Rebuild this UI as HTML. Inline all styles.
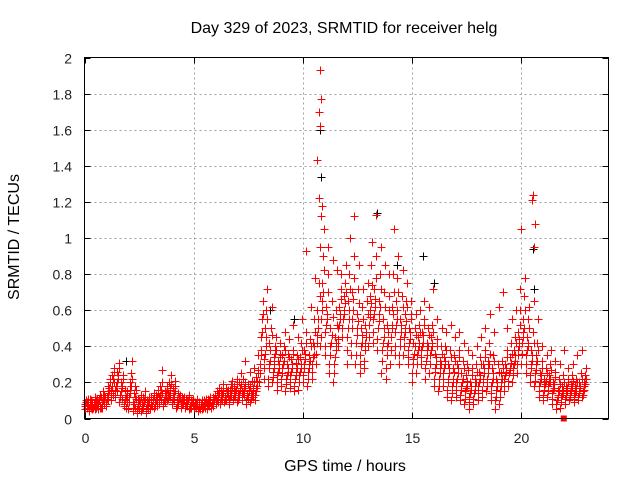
<!DOCTYPE html>
<html><head><meta charset="utf-8"><style>
body{margin:0;background:#fff}
svg{display:block;font-family:"Liberation Sans",sans-serif}
</style></head><body>
<svg id="chart" width="640" height="480" xmlns="http://www.w3.org/2000/svg">
<rect width="640" height="480" fill="#fff"/>
<g id="grid"></g>
<g id="marks"></g>
<rect x="84.5" y="57.5" width="524" height="361" fill="none" stroke="#000" stroke-width="1"/>
<g id="ticks"></g>
<text x="344" y="33" font-size="16" text-anchor="middle">Day 329 of 2023, SRMTID for receiver helg</text>
<text x="345" y="471" font-size="16" text-anchor="middle">GPS time / hours</text>
<text transform="translate(19,237) rotate(-90)" font-size="16" text-anchor="middle">SRMTID / TECUs</text>
</svg>
<script>
const times=[0.0,0.2,0.4,0.6,0.8,1.0,1.2,1.4,1.6,1.8,2.0,2.2,2.4,2.6,2.8,3.0,3.2,3.4,3.6,3.8,4.0,4.2,4.4,4.6,4.8,5.0,5.2,5.4,5.6,5.8,6.0,6.2,6.4,6.6,6.8,7.0,7.2,7.4,7.6,7.8,8.0,8.2,8.4,8.6,8.8,9.0,9.2,9.4,9.6,9.8,10.0,10.2,10.4,10.6,10.8,11.0,11.2,11.4,11.6,11.8,12.0,12.2,12.4,12.6,12.8,13.0,13.2,13.4,13.6,13.8,14.0,14.2,14.4,14.6,14.8,15.0,15.2,15.4,15.6,15.8,16.0,16.2,16.4,16.6,16.8,17.0,17.2,17.4,17.6,17.8,18.0,18.2,18.4,18.6,18.8,19.0,19.2,19.4,19.6,19.8,20.0,20.2,20.4,20.6,20.8,21.0,21.2,21.4,21.6,21.8,22.0,22.2,22.4,22.6,22.8];
const samples=[
[.05,.08,.10,.06,.09,.07],[.04,.07,.11,.06,.09,.05],[.06,.08,.12,.05,.10,.07],[.05,.09,.11,.07,.13,.06],[.06,.10,.15,.08,.12,.07],
[.08,.12,.18,.10,.15,.22],[.10,.16,.24,.13,.20,.28],[.12,.18,.26,.15,.22,.31],[.09,.13,.20,.11,.17,.24],[.08,.11,.16,.06,.13,.09],
[.05,.12,.20,.16,.25,.32],[.04,.09,.14,.06,.18,.11],[.03,.07,.11,.05,.09,.13],[.04,.08,.12,.06,.10,.15],[.03,.06,.10,.05,.09,.12],
[.05,.08,.12,.07,.10,.14],[.06,.09,.13,.07,.11,.16],[.08,.12,.18,.10,.14,.27],[.07,.10,.15,.09,.12,.18],[.10,.14,.20,.12,.17,.24],
[.08,.12,.17,.10,.15,.21],[.06,.10,.14,.08,.12,.11],[.07,.09,.12,.08,.11,.10],[.06,.08,.11,.07,.10,.13],[.05,.07,.10,.06,.09,.08],
[.05,.07,.09,.06,.08,.11],[.04,.06,.09,.05,.08,.10],[.05,.07,.10,.06,.08,.09],[.05,.08,.11,.07,.09,.12],[.06,.08,.12,.07,.10,.13],
[.08,.11,.15,.09,.13,.17],[.08,.12,.16,.10,.14,.19],[.09,.12,.17,.10,.15,.13],[.08,.11,.16,.13,.19,.21],[.10,.13,.18,.12,.16,.22],
[.09,.14,.20,.12,.17,.25],[.10,.15,.22,.13,.18,.32],[.08,.13,.19,.11,.16,.26],[.09,.14,.21,.12,.17,.28],[.10,.15,.23,.18,.27,.35],
[.20,.30,.45,.35,.55,.65],[.22,.33,.50,.40,.60,.72],[.18,.28,.42,.32,.50,.62],[.20,.26,.34,.30,.40,.45],[.16,.24,.32,.28,.36,.42],
[.18,.25,.35,.30,.40,.48],[.15,.22,.30,.26,.36,.44],[.17,.24,.33,.28,.38,.52],[.15,.22,.31,.26,.35,.45],[.16,.24,.34,.28,.42,.55],
[.20,.28,.38,.33,.48,.93],[.18,.26,.35,.30,.44,.62],[.22,.30,.42,.35,.55,.78],[.30,.42,.60,.50,.75,.95],[.40,.55,.75,.65,.90,1.05],
[.35,.48,.62,.55,.80,.95],[.25,.35,.50,.42,.65,.88],[.20,.30,.45,.38,.60,.82],[.40,.50,.62,.55,.72,.80],[.45,.55,.68,.60,.75,.85],
[.30,.45,.65,.55,.80,1.00],[.35,.50,.70,.60,.90,1.12],[.30,.42,.58,.50,.72,.85],[.25,.35,.50,.42,.62,.72],[.28,.38,.52,.45,.65,.75],
[.40,.52,.68,.60,.85,.98],[.42,.55,.72,.62,.90,1.13],[.38,.50,.65,.58,.80,.95],[.25,.38,.55,.45,.70,.85],[.22,.35,.52,.42,.68,.80],
[.30,.45,.62,.52,.80,1.05],[.35,.48,.65,.55,.78,.90],[.30,.40,.55,.48,.68,.82],[.35,.45,.58,.50,.65,.75],[.30,.38,.50,.44,.58,.65],
[.20,.30,.42,.36,.50,.58],[.25,.35,.45,.40,.52,.60],[.30,.38,.48,.42,.55,.65],[.22,.32,.42,.38,.50,.62],[.25,.35,.45,.40,.52,.72],
[.18,.26,.36,.30,.44,.55],[.15,.22,.32,.28,.40,.50],[.18,.25,.34,.30,.40,.48],[.12,.20,.30,.25,.38,.52],[.10,.18,.28,.22,.35,.45],
[.12,.20,.30,.25,.38,.48],[.10,.16,.25,.20,.32,.42],[.08,.15,.24,.18,.30,.38],[.05,.12,.20,.16,.28,.35],[.08,.14,.22,.18,.30,.40],
[.10,.18,.26,.22,.34,.45],[.12,.20,.30,.25,.38,.50],[.15,.22,.32,.28,.42,.58],[.10,.18,.28,.22,.35,.48],[.05,.12,.22,.18,.30,.62],
[.08,.15,.25,.20,.32,.70],[.15,.22,.30,.26,.38,.50],[.18,.25,.34,.28,.42,.55],[.20,.28,.38,.32,.45,.60],[.25,.35,.48,.40,.60,.72],
[.30,.42,.55,.48,.68,.78],[.25,.35,.45,.40,.55,.62],[.20,.28,.38,.32,.48,.65],[.18,.25,.35,.30,.42,.55],[.12,.18,.25,.22,.32,.40],
[.10,.16,.22,.19,.28,.35],[.12,.18,.24,.20,.30,.38],[.08,.14,.20,.17,.26,.32],[.05,.10,.16,.13,.22,.30],[.06,.12,.18,.14,.24,.38],
[.08,.13,.18,.15,.22,.28],[.10,.14,.19,.16,.24,.30],[.09,.13,.18,.15,.22,.35],[.10,.14,.20,.17,.25,.38],[.12,.15,.20,.18,.24,.28]];
const samplesB=[
[.07,.09,.06,.11],[.06,.08,.10,.05],[.07,.09,.06,.11],[.08,.10,.06,.12],[.09,.11,.13,.07],
[.11,.14,.17,.20],[.14,.18,.22,.26],[.16,.20,.24,.28],[.12,.15,.18,.22],[.07,.10,.12,.15],
[.09,.14,.18,.22],[.06,.08,.12,.16],[.05,.08,.10,.12],[.05,.07,.09,.11],[.04,.07,.09,.11],
[.06,.09,.11,.13],[.07,.10,.12,.14],[.09,.13,.16,.20],[.08,.11,.14,.16],[.11,.13,.16,.19],
[.09,.11,.14,.18],[.07,.09,.11,.13],[.06,.08,.10,.12],[.07,.09,.10,.12],[.06,.08,.09,.11],
[.06,.07,.08,.10],[.05,.07,.08,.09],[.06,.07,.09,.11],[.06,.08,.10,.11],[.07,.09,.11,.12],
[.09,.10,.12,.14],[.09,.11,.13,.15],[.10,.11,.14,.16],[.09,.12,.14,.17],[.11,.14,.15,.19],
[.10,.13,.16,.19],[.12,.14,.17,.20],[.10,.12,.15,.18],[.11,.13,.16,.20],[.13,.17,.21,.25],
[.25,.38,.48,.58],[.28,.36,.45,.55],[.22,.30,.38,.46],[.23,.28,.36,.38],[.20,.26,.30,.34],
[.22,.28,.32,.38],[.19,.24,.28,.34],[.20,.26,.30,.36],[.18,.24,.28,.33],[.20,.26,.30,.38],
[.24,.30,.36,.42],[.22,.28,.32,.40],[.26,.34,.40,.48],[.36,.46,.55,.68],[.45,.60,.70,.82],
[.40,.52,.58,.70],[.30,.40,.46,.56],[.25,.34,.42,.52],[.44,.52,.58,.66],[.50,.58,.64,.70],
[.38,.50,.60,.72],[.42,.55,.66,.78],[.35,.46,.54,.64],[.30,.40,.46,.55],[.32,.42,.48,.58],
[.45,.56,.64,.74],[.48,.58,.66,.78],[.44,.54,.62,.72],[.32,.42,.50,.62],[.28,.40,.48,.60],
[.38,.50,.58,.70],[.40,.52,.60,.70],[.35,.44,.52,.62],[.40,.48,.54,.62],[.34,.42,.48,.55],
[.25,.33,.40,.46],[.30,.38,.42,.48],[.34,.40,.46,.52],[.28,.35,.40,.46],[.30,.38,.42,.48],
[.22,.28,.34,.40],[.18,.25,.30,.36],[.22,.28,.32,.38],[.16,.22,.28,.34],[.14,.20,.26,.32],
[.16,.22,.28,.34],[.13,.18,.22,.28],[.11,.17,.21,.27],[.09,.14,.18,.24],[.11,.16,.20,.26],
[.14,.20,.24,.30],[.16,.22,.28,.34],[.18,.25,.30,.36],[.14,.20,.25,.32],[.10,.16,.20,.26],
[.12,.18,.22,.28],[.18,.24,.28,.34],[.21,.27,.31,.36],[.24,.30,.35,.42],[.30,.38,.44,.52],
[.36,.45,.50,.60],[.30,.38,.42,.50],[.24,.30,.35,.42],[.21,.27,.32,.38],[.15,.20,.24,.28],
[.13,.18,.21,.25],[.15,.20,.22,.27],[.11,.16,.19,.23],[.08,.12,.15,.19],[.09,.13,.16,.20],
[.11,.14,.17,.20],[.12,.15,.18,.21],[.11,.14,.17,.20],[.12,.15,.18,.22],[.13,.16,.19,.22]];
const peakTimes=[10.8,10.85,10.75,10.8,10.65,10.75,10.9,10.85,20.55,20.5,20.65,20.6,20.0];
const peakValues=[1.93,1.77,1.70,1.62,1.43,1.22,1.18,1.12,1.24,1.21,1.08,0.95,1.05];
const blackTimes=[10.85,10.8,13.4,20.0,20.55,15.5,14.3,9.6,8.5,1.9,20.6,16.0];
const blackValues=[1.34,1.60,1.14,1.05,0.94,0.90,0.85,0.55,0.60,0.32,0.72,0.75];
const squareTimes=[21.95];
const squareValues=[0.0];
const xTicks=[0,5,10,15,20];
const yTicks=[0,0.2,0.4,0.6,0.8,1,1.2,1.4,1.6,1.8,2];

const X0=84.5,X1=608.5,Y0=418.5,Y1=57.5;
const sx=t=>X0+t/24*(X1-X0);
const sy=v=>Y0-v/2*(Y0-Y1);
const NS="http://www.w3.org/2000/svg";
const grid=document.getElementById('grid'),ticks=document.getElementById('ticks'),marks=document.getElementById('marks');
function mk(tag,attrs,parent){const e=document.createElementNS(NS,tag);for(const k in attrs)e.setAttribute(k,attrs[k]);parent.appendChild(e);return e;}
xTicks.forEach(t=>{const x=Math.round(sx(t))+0.5;
 if(t>0){const g=mk('line',{x1:x,x2:x,y1:Y1,y2:Y0,stroke:'#a0a0a0','stroke-dasharray':'2,3'},grid);
 
 }
 const tk=mk('path',{d:`M${x},${Y0}v-6M${x},${Y1}v6`,stroke:'#000'},ticks);
 
 
 const l=mk('text',{x:x,y:443,'font-size':14,'text-anchor':'middle',fill:'#222'},ticks);l.textContent=t;
 
 });
yTicks.forEach(v=>{const y=Math.round(sy(v))+0.5;
 if(v>0&&v<2){const g=mk('line',{x1:X0,x2:X1,y1:y,y2:y,stroke:'#a0a0a0','stroke-dasharray':'2,3'},grid);
 
 }
 const tk=mk('path',{d:`M${X0},${y}h6M${X1},${y}h-6`,stroke:'#000'},ticks);
 
 
 const l=mk('text',{x:72,y:y+5,'font-size':14,'text-anchor':'end',fill:'#222'},ticks);l.textContent=v;
 
 });
function crosses(ts,vs,color,name){let d='';ts.forEach((t,i)=>{const x=Math.round(sx(t))+0.5,y=Math.round(sy(vs[i]))+0.5;d+=`M${x-4},${y}h8M${x},${y-4}v8`;});
 const p=mk('path',{d:d,stroke:color,'stroke-width':1,fill:'none'},marks);
 
 }
crosses(blackTimes,blackValues,'#000','black-series-points');
const rt=[],rv=[];
times.forEach((t,i)=>samples[i].forEach((v,j)=>{rt.push(t+j*0.033);rv.push(v);}));
times.forEach((t,i)=>samplesB[i].forEach((v,j)=>{rt.push(t+0.016+j*0.05);rv.push(v);}));
crosses(rt,rv,'#f00','red-series-points');
crosses(peakTimes,peakValues,'#f00','red-peak-points');
squareTimes.forEach((t,i)=>{const r=mk('rect',{x:sx(t)-3,y:sy(squareValues[i])-3,width:6,height:6,fill:'#f00'},marks);
 
 });
</script>
</body></html>
